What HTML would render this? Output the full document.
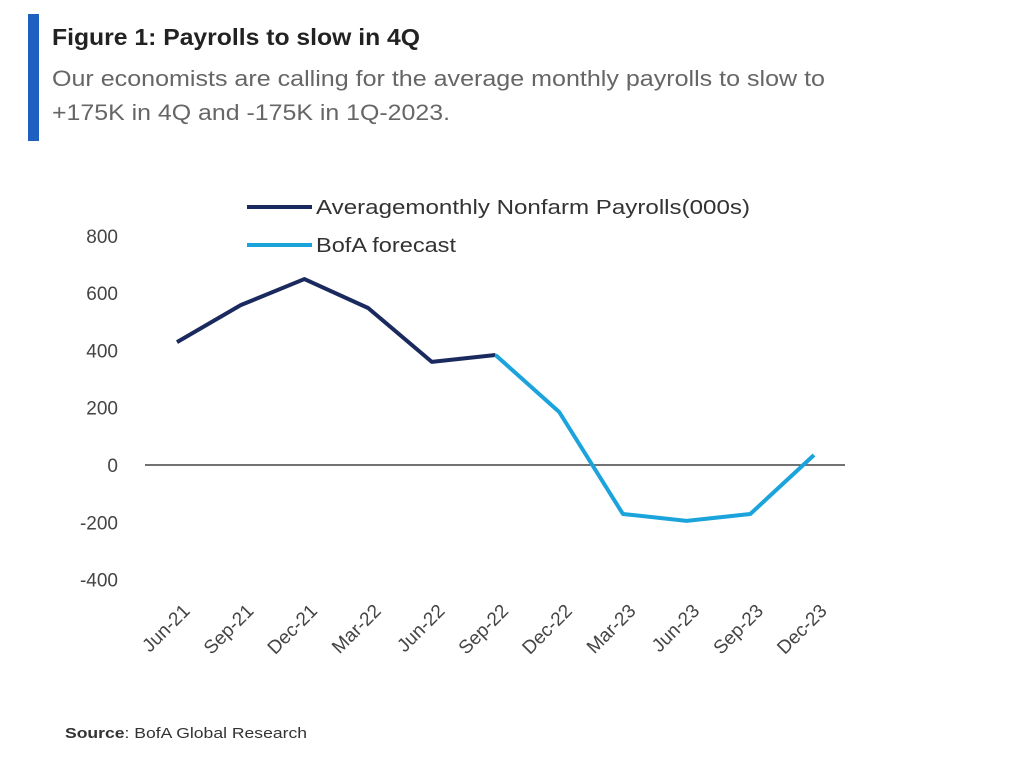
<!DOCTYPE html>
<html><head><meta charset="utf-8"><style>
body{margin:0;background:#fff;width:1024px;height:758px;overflow:hidden;font-family:"Liberation Sans",sans-serif}
</style></head><body>
<svg width="1024" height="758">
<rect x="28" y="14" width="11" height="127" fill="#1f5fbf"/>
<text x="52" y="45" font-size="23" font-weight="bold" fill="#222" textLength="368" lengthAdjust="spacingAndGlyphs">Figure 1: Payrolls to slow in 4Q</text>
<text x="52" y="86" font-size="22" fill="#666" textLength="773" lengthAdjust="spacingAndGlyphs">Our economists are calling for the average monthly payrolls to slow to</text>
<text x="52" y="120" font-size="22" fill="#666" textLength="398" lengthAdjust="spacingAndGlyphs">+175K in 4Q and -175K in 1Q-2023.</text>
<g id="yaxis"></g>
<g id="xaxis"></g>
<line x1="145" x2="845" id="zero" stroke="#444" stroke-width="1.5"/>
<g id="series"></g>
<line x1="247" x2="312" y1="207" y2="207" stroke="#1a2a5e" stroke-width="4"/>
<text x="316" y="214" font-size="20" fill="#333" textLength="434" lengthAdjust="spacingAndGlyphs">Averagemonthly  Nonfarm Payrolls(000s)</text>
<line x1="247" x2="312" y1="245" y2="245" stroke="#1ba3dc" stroke-width="4"/>
<text x="316" y="252" font-size="20" fill="#333" textLength="140" lengthAdjust="spacingAndGlyphs">BofA forecast</text>
<text x="65" y="738" font-size="15" fill="#333" textLength="242" lengthAdjust="spacingAndGlyphs"><tspan font-weight="bold">Source</tspan>: BofA Global Research</text>
</svg>
<script>
const categories=["Jun-21","Sep-21","Dec-21","Mar-22","Jun-22","Sep-22","Dec-22","Mar-23","Jun-23","Sep-23","Dec-23"];
const actualValues=[429,558,649,548,360,384,null,null,null,null,null];
const forecastValues=[null,null,null,null,null,384,185,-171,-195,-171,35];
const yTicks=[800,600,400,200,0,-200,-400];
const NS="http://www.w3.org/2000/svg";
const y=v=>465-v*57.3/200;
const x=i=>177+i*63.7;
function el(t,a,p){const e=document.createElementNS(NS,t);for(const k in a)e.setAttribute(k,a[k]);p.appendChild(e);return e;}
document.getElementById('zero').setAttribute('y1',y(0));
document.getElementById('zero').setAttribute('y2',y(0));
const ya=document.getElementById('yaxis');
yTicks.forEach(v=>{const t=el('text',{x:118,y:y(v)+7,'font-size':19,fill:'#444','text-anchor':'end'},ya);t.textContent=v;

});
const xa=document.getElementById('xaxis');
categories.forEach((c,i)=>{const px=x(i)+14,py=612;const t=el('text',{x:px,y:py,'font-size':19,fill:'#444','text-anchor':'end',transform:`rotate(-45 ${px} ${py})`},xa);t.textContent=c;

});
function line(vals,color,name){const pts=[];vals.forEach((v,i)=>{if(v!==null)pts.push(x(i)+','+y(v));});
const p=el('polyline',{points:pts.join(' '),fill:'none',stroke:color,'stroke-width':4,'stroke-linejoin':'round'},document.getElementById('series'));

}
line(actualValues,'#1a2a5e','actual-payrolls-line');
line(forecastValues,'#1ba3dc','forecast-line');
</script>
</body></html>
